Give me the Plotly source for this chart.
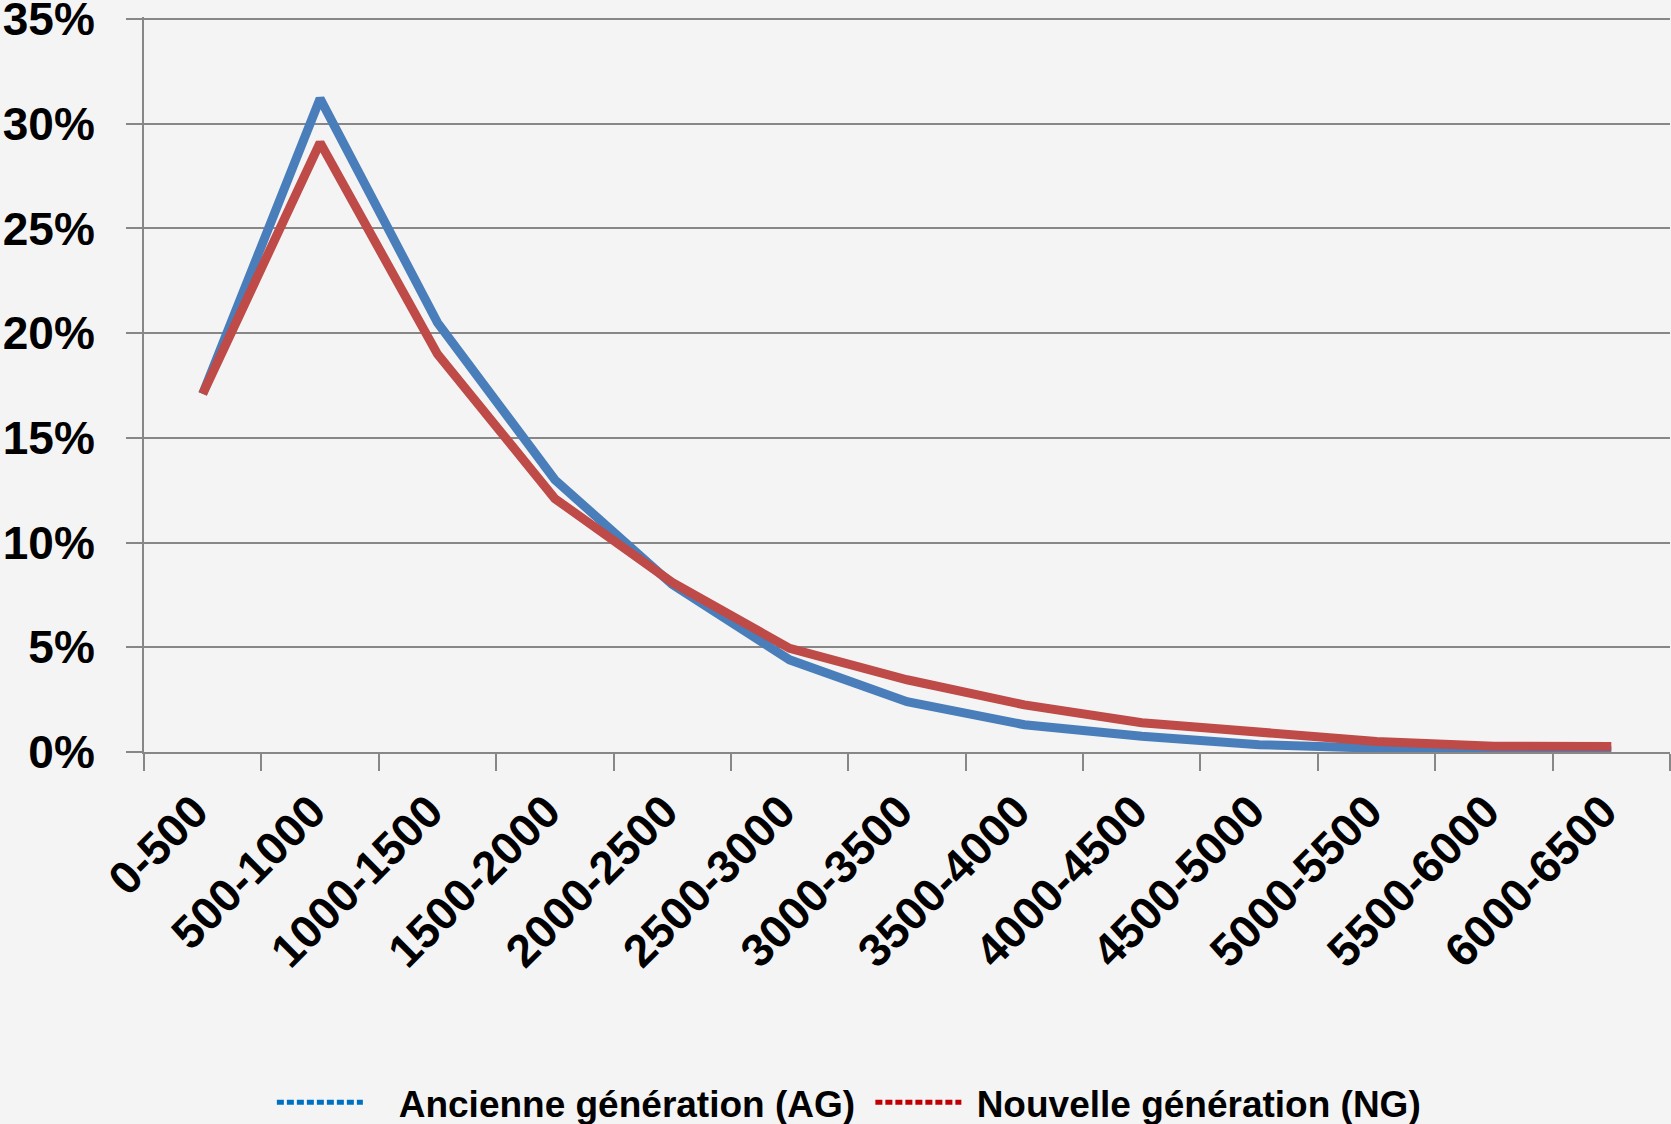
import plotly.graph_objects as go

categories = ["0-500", "500-1000", "1000-1500", "1500-2000", "2000-2500", "2500-3000",
              "3000-3500", "3500-4000", "4000-4500", "4500-5000", "5000-5500",
              "5500-6000", "6000-6500"]
ag_values = [17.1, 31.2, 20.5, 13.0, 8.0, 4.4, 2.4, 1.3, 0.75, 0.35, 0.18, 0.08, 0.06]
ng_values = [17.1, 29.1, 19.0, 12.1, 8.1, 4.95, 3.45, 2.25, 1.4, 0.97, 0.5, 0.28, 0.26]
y_ticks = [0, 5, 10, 15, 20, 25, 30, 35]
y_tick_labels = ["0%", "5%", "10%", "15%", "20%", "25%", "30%", "35%"]
series_names = ["Ancienne génération (AG)", "Nouvelle génération (NG)"]

FONT = "Liberation Sans, Arial, sans-serif"
GRID = "#878787"
BG = "#F4F4F4"
NB = "\u00a0"

fig = go.Figure()
fig.add_trace(go.Scatter(x=categories, y=ag_values, mode="lines",
                         line=dict(color="#4A7EBB", width=9), showlegend=False,
                         name=series_names[0]))
fig.add_trace(go.Scatter(x=categories, y=ng_values, mode="lines",
                         line=dict(color="#BE4B48", width=9), showlegend=False,
                         name=series_names[1]))
# legend entries (dashed samples as in the reference legend)
fig.add_trace(go.Scatter(x=[None], y=[None], mode="lines",
                         name=NB * 3 + series_names[0] + NB,
                         line=dict(color="#0070C0", width=5, dash="7px,3px")))
fig.add_trace(go.Scatter(x=[None], y=[None], mode="lines",
                         name=NB + series_names[1],
                         line=dict(color="#C00000", width=5, dash="7px,3px")))

fig.update_layout(
    width=1671, height=1124,
    paper_bgcolor=BG, plot_bgcolor=BG,
    margin=dict(l=144, r=1, t=17, b=372, autoexpand=False),
    font=dict(family=FONT, color="black"),
    legend=dict(orientation="h", xref="container", yref="container",
                x=0.508, xanchor="center", y=0.019, yanchor="middle",
                font=dict(size=37, family=FONT, weight="bold"),
                itemwidth=86, bgcolor="rgba(0,0,0,0)"),
    xaxis=dict(type="category", range=[-0.5, 12.5], showgrid=False,
               showline=True, linecolor=GRID, linewidth=2, automargin=False,
               ticks="outside", tickson="boundaries", ticklen=17, tickwidth=2,
               tickcolor=GRID, tickangle=-45,
               tickfont=dict(size=46, family=FONT, weight="bold"),
               ticklabelstandoff=12, ticklabelshift=-8),
    yaxis=dict(range=[0, 35.0955], tickmode="array", tickvals=y_ticks,
               ticktext=y_tick_labels, ticklabeloverflow="allow", automargin=False,
               showgrid=True, gridcolor=GRID, gridwidth=2,
               showline=True, linecolor=GRID, linewidth=2,
               ticks="outside", ticklen=16, tickwidth=2, tickcolor=GRID,
               tickfont=dict(size=46, family=FONT, weight="bold"),
               ticklabelstandoff=22, zeroline=False),
)

fig.write_html("out.html", config={"displayModeBar": False},
               post_script="document.body.style.margin='0';document.body.style.background='#F4F4F4';")
